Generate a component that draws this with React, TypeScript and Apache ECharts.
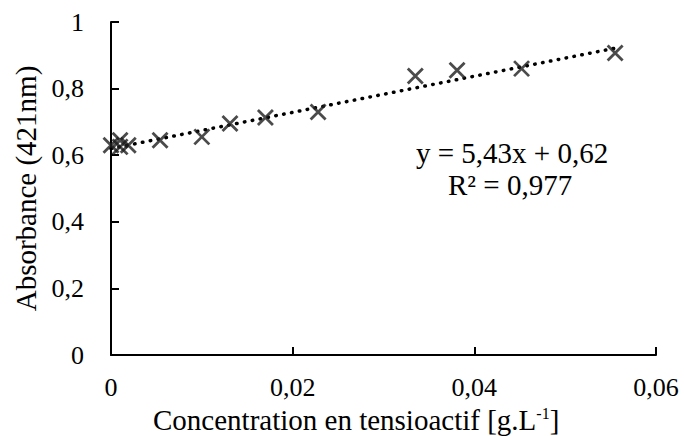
import React, { useEffect, useRef } from "react";
import * as echarts from "echarts";

const concentrations = [0, 0.001, 0.001, 0.0019, 0.0054, 0.01, 0.0131, 0.017, 0.0228, 0.0335, 0.0381, 0.0452, 0.0555];
const absorbances = [0.63, 0.645, 0.625, 0.63, 0.645, 0.655, 0.695, 0.713, 0.73, 0.838, 0.855, 0.86, 0.907];
const slope = 5.43;
const intercept = 0.62;
const trendRange = [0, 0.0555];
const equationText = "y = 5,43x + 0,62";
const r2Text = "R² = 0,977";
const xTitle = "Concentration en tensioactif [g.L";
const yTitle = "Absorbance (421nm)";

const FONT = '"Liberation Serif", "Times New Roman", serif';

export default function App() {
  const ref = useRef<HTMLDivElement>(null);
  useEffect(() => {
    document.body.style.margin = "0";
    const chart = echarts.init(ref.current!, null, { renderer: "svg" });
    const points = concentrations.map((c, i) => [c, absorbances[i]]);
    const trend = trendRange.map((x) => [x, slope * x + intercept]);
    const fmt = (v: number) => String(v).replace(".", ",");
    chart.setOption({
      animation: false,
      backgroundColor: "#fff",
      textStyle: { fontFamily: FONT },
      grid: { left: 111, right: 28, top: 22, bottom: 81 },
      xAxis: {
        type: "value",
        min: 0,
        max: 0.06,
        interval: 0.02,
        axisLine: { show: true, lineStyle: { color: "#000", width: 2 } },
        axisTick: { show: true, inside: true, length: 8, lineStyle: { color: "#000", width: 2 } },
        splitLine: { show: false },
        axisLabel: { color: "#000", fontSize: 26, fontFamily: FONT, margin: 19, formatter: fmt },
      },
      yAxis: {
        type: "value",
        min: 0,
        max: 1,
        interval: 0.2,
        axisLine: { show: true, lineStyle: { color: "#000", width: 2 } },
        axisTick: { show: true, inside: true, length: 8, lineStyle: { color: "#000", width: 2 } },
        splitLine: { show: false },
        axisLabel: { color: "#000", fontSize: 26, fontFamily: FONT, margin: 27, formatter: fmt },
        name: yTitle,
        nameLocation: "middle",
        nameGap: 70,
        nameTextStyle: { color: "#000", fontSize: 29, fontFamily: FONT },
      },
      graphic: [
        {
          type: "text",
          left: 416,
          top: 138,
          style: { text: equationText, fill: "#000", font: `29px ${FONT}` },
        },
        {
          type: "text",
          left: 448,
          top: 170,
          style: { text: r2Text, fill: "#000", font: `29px ${FONT}` },
        },
        {
          type: "text",
          left: 153,
          top: 405,
          style: {
            text: xTitle + "{sup|-1}]",
            fill: "#000",
            font: `29px ${FONT}`,
            rich: { sup: { fontSize: 16, fontFamily: FONT, fill: "#000", verticalAlign: "top", padding: [0, 0, 12, 0] } },
          },
        },
      ],
      series: [
        {
          type: "line",
          data: trend,
          symbol: "none",
          lineStyle: { color: "#000", width: 3.5, type: [0.5, 7.5], cap: "round" },
          z: 1,
        },
        {
          type: "scatter",
          data: points,
          symbol: "path://M0,0L10,10M10,0L0,10",
          symbolSize: 15,
          itemStyle: { color: "rgba(0,0,0,0)", borderColor: "#1e1e1e", borderWidth: 2.8 },
          z: 2,
        },
      ],
    });
    return () => chart.dispose();
  }, []);
  return <div ref={ref} style={{ width: 684, height: 436 }} />;
}
